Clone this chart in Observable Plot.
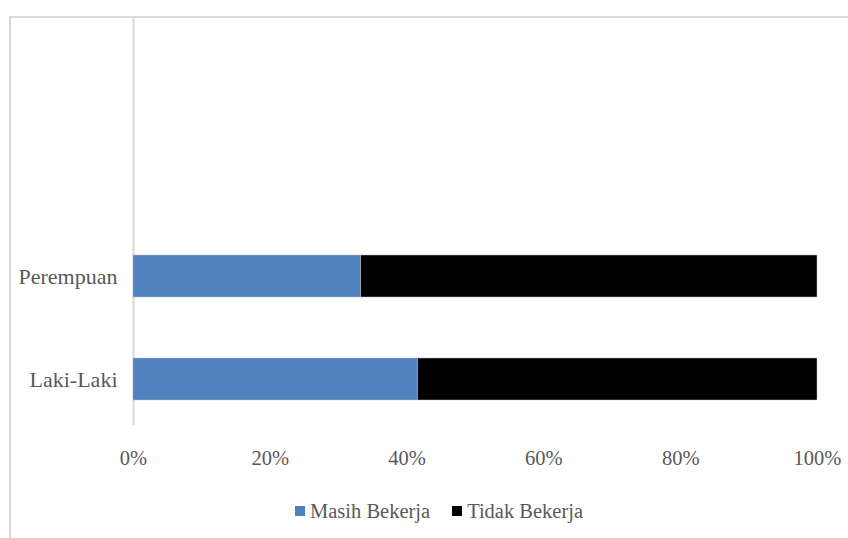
<!DOCTYPE html>
<html><head><meta charset="utf-8">
<script src="https://cdn.jsdelivr.net/npm/d3@7"></script>
<script src="https://cdn.jsdelivr.net/npm/@observablehq/plot@0.6"></script>
<style>
body{margin:0;background:#fff;width:848px;height:538px;overflow:hidden;position:relative;font-family:"Liberation Serif",serif;}
#frame{position:absolute;left:9px;top:16px;width:860px;height:540px;border-top:2px solid #d9d9d9;border-left:2px solid #d9d9d9;}
#chart{position:absolute;left:0;top:0;}
#legend{position:absolute;left:295px;top:498px;height:26px;display:flex;align-items:center;font-size:20.5px;color:#595959;}
#legend .item{display:flex;align-items:center;margin-right:22px;}
#legend .sw{width:10px;height:10px;margin-right:5px;}
</style></head>
<body>
<div id="frame"></div>
<div id="chart"></div>
<div id="legend"></div>
<script>
const categories = ["Perempuan", "Laki-Laki"];
const series = ["Masih Bekerja", "Tidak Bekerja"];
const masihBekerja = [33.3, 41.6];
const tidakBekerja = [66.7, 58.4];
const xTicks = [0, 20, 40, 60, 80, 100];
const colors = ["#4f81bd", "#000000"];

const data = [];
categories.forEach((c, i) => {
  data.push({cat: c, series: series[0], value: masihBekerja[i]});
  data.push({cat: c, series: series[1], value: tidakBekerja[i]});
});

const chart = Plot.plot({
  width: 848,
  height: 488,
  marginLeft: 133,
  marginRight: 31,
  marginTop: 18,
  marginBottom: 63,
  style: {fontFamily: "Liberation Serif, serif", fontSize: "20.5px", color: "#595959", background: "transparent"},
  x: {domain: [0, 100], ticks: xTicks, tickFormat: d => d + "%", tickSize: 0, tickPadding: 25, label: null},
  y: {domain: categories, range: [223, 431], paddingInner: 0.596, paddingOuter: 0.3, tickSize: 0, tickPadding: 16, label: null},
  color: {domain: series, range: colors},
  marks: [
    Plot.ruleX([0], {stroke: "#d9d9d9", strokeWidth: 2}),
    Plot.barX(data, {x: "value", y: "cat", fill: "series", stroke: "#bfbfbf", strokeWidth: 0.5}),
    Plot.axisY({tickSize: 0, tickPadding: 16, fontSize: 22, label: null}),
    Plot.axisX({ticks: xTicks, tickFormat: d => d + "%", tickSize: 0, tickPadding: 25, label: null})
  ]
});
document.getElementById("chart").appendChild(chart);

const legend = document.getElementById("legend");
series.forEach((s, i) => {
  const item = document.createElement("div");
  item.className = "item";
  const sw = document.createElement("div");
  sw.className = "sw";
  sw.style.background = colors[i];
  const t = document.createElement("span");
  t.textContent = s;
  item.appendChild(sw);
  item.appendChild(t);
  legend.appendChild(item);
});
</script>
</body></html>
